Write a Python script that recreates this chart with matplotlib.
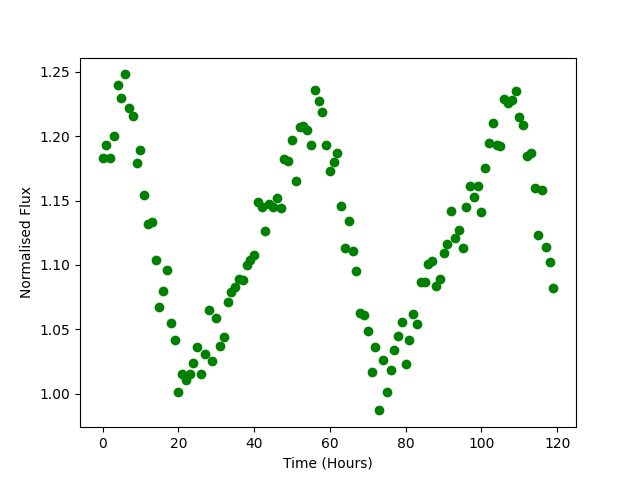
#!/usr/bin/env python

import matplotlib
matplotlib.use("Agg")
import matplotlib.pyplot as plt

# time in hours, one sample per hour
time = list(range(120))

flux = [
    1.183, 1.193, 1.183, 1.200, 1.240, 1.230, 1.248, 1.222, 1.216, 1.179,
    1.189, 1.154, 1.132, 1.133, 1.104, 1.067, 1.080, 1.096, 1.055, 1.042,
    1.001, 1.015, 1.011, 1.015, 1.024, 1.036, 1.015, 1.031, 1.065, 1.025,
    1.059, 1.037, 1.044, 1.071, 1.079, 1.083, 1.089, 1.088, 1.100, 1.104,
    1.108, 1.149, 1.145, 1.126, 1.147, 1.145, 1.152, 1.144, 1.182, 1.181,
    1.197, 1.165, 1.207, 1.208, 1.205, 1.193, 1.236, 1.227, 1.219, 1.193,
    1.173, 1.180, 1.187, 1.146, 1.113, 1.134, 1.111, 1.095, 1.063, 1.061,
    1.049, 1.017, 1.036, 0.987, 1.026, 1.001, 1.018, 1.034, 1.045, 1.056,
    1.023, 1.042, 1.062, 1.054, 1.087, 1.087, 1.101, 1.103, 1.084, 1.089,
    1.109, 1.116, 1.142, 1.121, 1.127, 1.113, 1.145, 1.161, 1.153, 1.161,
    1.141, 1.175, 1.195, 1.210, 1.193, 1.192, 1.229, 1.226, 1.228, 1.235,
    1.215, 1.209, 1.185, 1.187, 1.160, 1.123, 1.158, 1.114, 1.102, 1.082,
]

def create_plot():
    fig, ax = plt.subplots(figsize=(6.4, 4.8), dpi=100)
    ax.plot(time, flux, "go")
    ax.set_xlabel("Time (Hours)")
    ax.set_ylabel("Normalised Flux")
    fig.savefig("out.png")

if __name__ == "__main__":
    create_plot()
